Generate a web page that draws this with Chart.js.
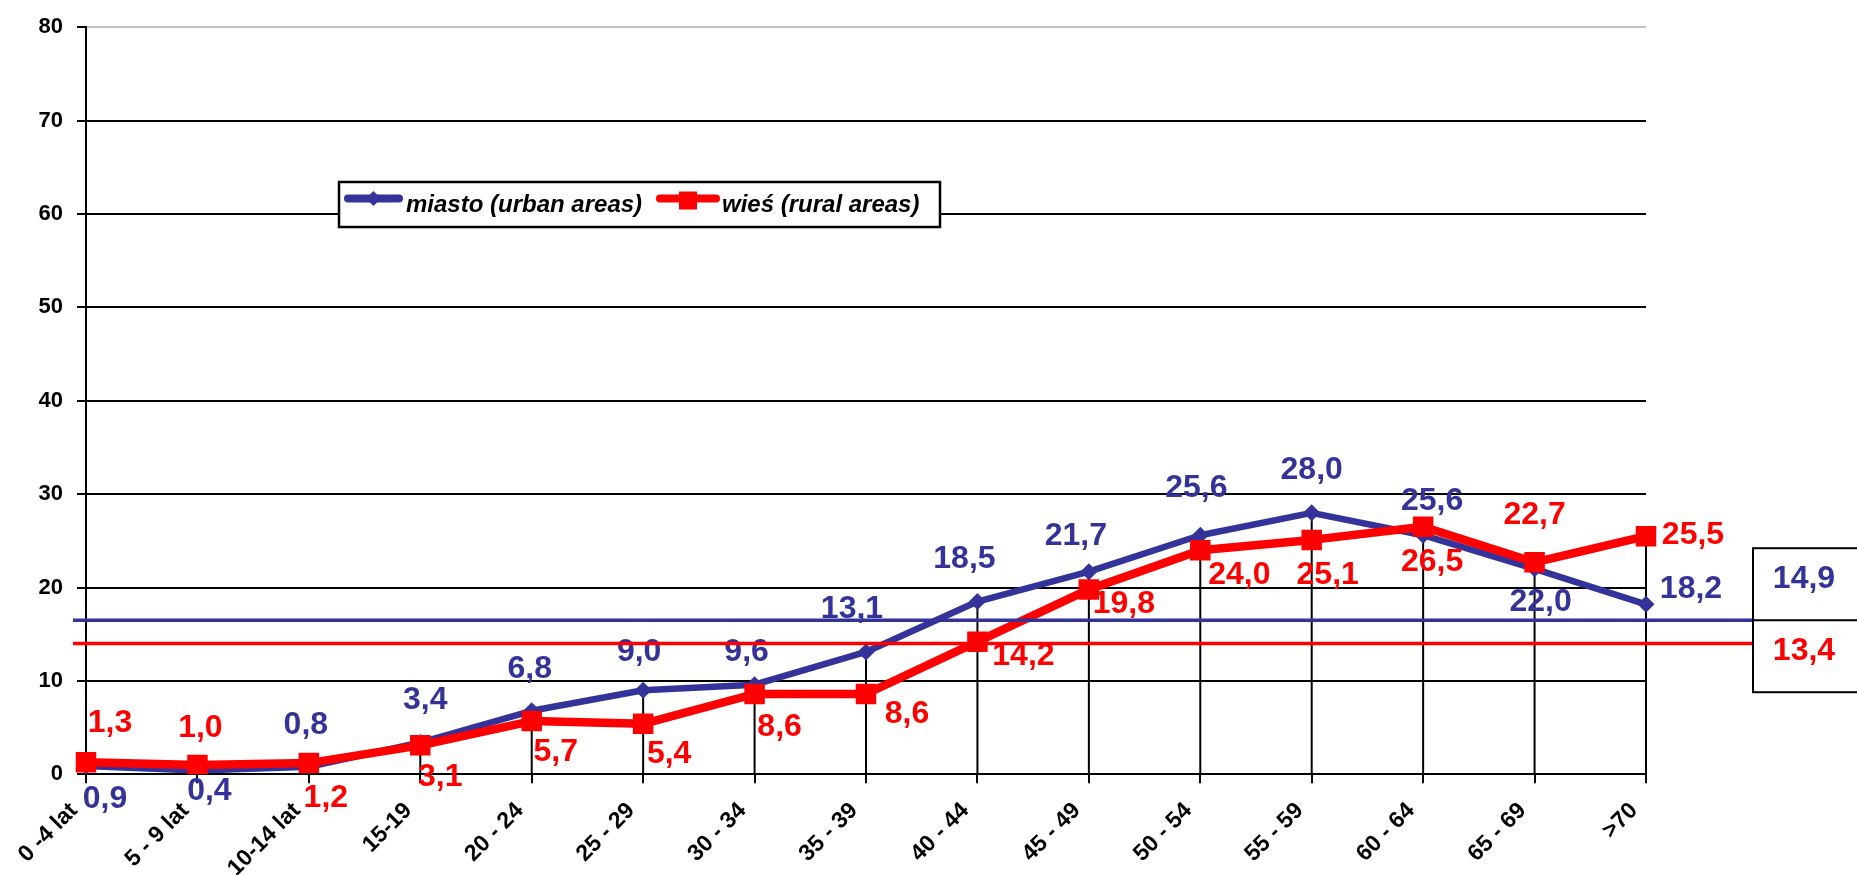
<!DOCTYPE html>
<html>
<head>
<meta charset="utf-8">
<script src="https://cdn.jsdelivr.net/npm/chart.js@4.4.1/dist/chart.umd.min.js"></script>
<style>
  html, body { margin: 0; padding: 0; background: #fff; }
  #wrap { width: 1857px; height: 875px; position: relative; }
</style>
</head>
<body>
<div id="wrap"><canvas id="myChart"></canvas></div>
<script>
const categories = ['0 -4 lat', '5 - 9 lat', '10-14 lat', '15-19', '20 - 24', '25 - 29', '30 - 34', '35 - 39', '40 - 44', '45 - 49', '50 - 54', '55 - 59', '60 - 64', '65 - 69', '>70'];
const miasto = [0.9, 0.4, 0.8, 3.4, 6.8, 9.0, 9.6, 13.1, 18.5, 21.7, 25.6, 28.0, 25.6, 22.0, 18.2];
const wies = [1.3, 1.0, 1.2, 3.1, 5.7, 5.4, 8.6, 8.6, 14.2, 19.8, 24.0, 25.1, 26.5, 22.7, 25.5];
const yTicks = [0, 10, 20, 30, 40, 50, 60, 70, 80];
// average lines (where they sit on the axis) and the numbers shown in the box
const avgLevels = [16.5, 14.0];
const avgTexts = ['14,9', '13,4'];

const BLUE = '#333399';
const RED = '#ff0000';
const FAM = '"Liberation Sans", Arial, sans-serif';

// label placement, pixel offsets from each point (like the manual Excel labels)
const blueOffsets = [[19, 33], [12, 21], [-3, -42], [5, -42], [-2, -42], [-4, -38], [-8, -32], [-14, -43],
  [-13, -42], [-13, -35], [-4, -47], [0, -43], [9, -34], [6, 33], [45, -15]];
const redOffsets = [[24, -39], [3, -37], [17, 35], [20, 32], [24, 31], [26, 30], [25, 33], [41, 20],
  [46, 14], [35, 15], [39, 25], [16, 35], [9, 35], [0, -47], [47, -1]];

Chart.defaults.font.family = FAM;

function fmt(v) {
    return v.toFixed(1).replace('.', ',');
}

// vertical lines from the highest point down to the axis
const dropLines = {
    id: 'dropLines',
    beforeDatasetsDraw(chart) {
        const ctx = chart.ctx;
        const x = chart.scales.x, y = chart.scales.y;
        ctx.save();
        ctx.strokeStyle = '#000';
        ctx.lineWidth = 2;
        for (let i = 0; i < categories.length; i++) {
            const px = x.getPixelForValue(i);
            ctx.beginPath();
            ctx.moveTo(px, y.getPixelForValue(Math.max(miasto[i], wies[i])));
            ctx.lineTo(px, y.getPixelForValue(0));
            ctx.stroke();
        }
        ctx.restore();
    }
};

const pointLabels = {
    id: 'pointLabels',
    afterDatasetsDraw(chart) {
        const ctx = chart.ctx;
        ctx.save();
        ctx.font = 'bold 32px ' + FAM;
        ctx.textAlign = 'center';
        ctx.textBaseline = 'middle';
        chart.data.datasets.forEach(function (ds, di) {
            const meta = chart.getDatasetMeta(di);
            const offs = di === 0 ? blueOffsets : redOffsets;
            meta.data.forEach(function (pt, i) {
                ctx.fillStyle = ds.borderColor;
                ctx.fillText(fmt(ds.data[i]), pt.x + offs[i][0], pt.y + offs[i][1]);
            });
        });
        ctx.restore();
    }
};

// average lines + box with the values on the right
const avgBox = {
    id: 'avgBox',
    afterDatasetsDraw(chart) {
        const ctx = chart.ctx;
        const y = chart.scales.y;
        const area = chart.chartArea;
        const yb = y.getPixelForValue(avgLevels[0]);
        const yr = y.getPixelForValue(avgLevels[1]);
        const boxLeft = 1753;
        ctx.save();
        ctx.lineWidth = 3.5;
        ctx.strokeStyle = BLUE;
        ctx.beginPath(); ctx.moveTo(area.left - 13, yb); ctx.lineTo(boxLeft, yb); ctx.stroke();
        ctx.strokeStyle = RED;
        ctx.beginPath(); ctx.moveTo(area.left - 13, yr); ctx.lineTo(boxLeft, yr); ctx.stroke();

        ctx.strokeStyle = '#000';
        ctx.lineWidth = 2;
        ctx.strokeRect(boxLeft, yb - 72, 200, 144);
        ctx.beginPath(); ctx.moveTo(boxLeft, yb); ctx.lineTo(1857, yb); ctx.stroke();

        ctx.font = 'bold 32px ' + FAM;
        ctx.textAlign = 'center';
        ctx.textBaseline = 'middle';
        ctx.fillStyle = BLUE;
        ctx.fillText(avgTexts[0], 1804, yb - 41);
        ctx.fillStyle = RED;
        ctx.fillText(avgTexts[1], 1804, yb + 31);
        ctx.restore();
    }
};

// boxed legend sitting on the 60 gridline
const boxLegend = {
    id: 'boxLegend',
    afterDraw(chart) {
        const ctx = chart.ctx;
        ctx.save();
        ctx.fillStyle = '#fff';
        ctx.fillRect(339, 182, 601, 45);
        ctx.strokeStyle = '#000';
        ctx.lineWidth = 2.5;
        ctx.strokeRect(339, 182, 601, 45);

        ctx.lineCap = 'round';
        ctx.lineWidth = 8;
        ctx.strokeStyle = BLUE;
        ctx.beginPath(); ctx.moveTo(348, 198.5); ctx.lineTo(399, 198.5); ctx.stroke();
        ctx.fillStyle = BLUE;
        ctx.beginPath();
        ctx.moveTo(373.5, 191); ctx.lineTo(381, 198.5); ctx.lineTo(373.5, 206); ctx.lineTo(366, 198.5);
        ctx.closePath(); ctx.fill();

        ctx.strokeStyle = RED;
        ctx.beginPath(); ctx.moveTo(660, 198.5); ctx.lineTo(716, 198.5); ctx.stroke();
        ctx.fillStyle = RED;
        ctx.fillRect(679, 191.5, 18, 18);

        ctx.fillStyle = '#000';
        ctx.font = 'italic bold 24px ' + FAM;
        ctx.textBaseline = 'alphabetic';
        ctx.fillText(chart.data.datasets[0].label, 406, 212);
        ctx.fillText(chart.data.datasets[1].label, 722, 212);
        ctx.restore();
    }
};

const config = {
    type: 'line',
    data: {
        labels: categories,
        datasets: [{
            label: 'miasto (urban areas)',
            data: miasto,
            borderColor: BLUE,
            backgroundColor: BLUE,
            borderWidth: 6.5,
            borderJoinStyle: 'round',
            pointStyle: 'rectRot',
            pointRadius: 8.5,
            pointBorderWidth: 0,
            pointBackgroundColor: BLUE,
            order: 1
        },
        {
            label: 'wieś (rural areas)',
            data: wies,
            borderColor: RED,
            backgroundColor: RED,
            borderWidth: 8.5,
            borderJoinStyle: 'round',
            pointStyle: 'rect',
            pointRadius: 14.5,
            pointBorderWidth: 0,
            pointBackgroundColor: RED,
            order: 0
        }]
    },
    options: {
        animation: false,
        responsive: true,
        maintainAspectRatio: false,
        layout: { padding: { top: 21.7, right: 211, left: 0, bottom: 0 } },
        plugins: {
            legend: { display: false },
            tooltip: { enabled: false }
        },
        scales: {
            x: {
                offset: false,
                ticks: {
                    color: '#000',
                    font: { size: 23, weight: 'bold' },
                    minRotation: 45,
                    maxRotation: 45,
                    autoSkip: false,
                    padding: 14,
                    labelOffset: -12
                },
                grid: { drawOnChartArea: false, tickLength: 9, color: '#000', lineWidth: 2 },
                border: { color: '#000', width: 2 },
                afterFit(scale) { scale.height = 100.7; }
            },
            y: {
                min: 0,
                max: 80,
                afterBuildTicks(scale) { scale.ticks = yTicks.map(v => ({ value: v })); },
                ticks: {
                    color: '#000',
                    font: { size: 22, weight: 'bold' },
                    padding: 14
                },
                grid: {
                    color: c => (c.tick && c.tick.value === 80 ? '#c0c0c0' : '#000'),
                    tickColor: '#000',
                    lineWidth: 2,
                    tickLength: 9
                },
                border: { color: '#000', width: 2 },
                afterFit(scale) { scale.width = 86; }
            }
        }
    },
    plugins: [dropLines, pointLabels, avgBox, boxLegend]
};

var myChart = new Chart(document.getElementById('myChart'), config);
</script>
</body>
</html>
